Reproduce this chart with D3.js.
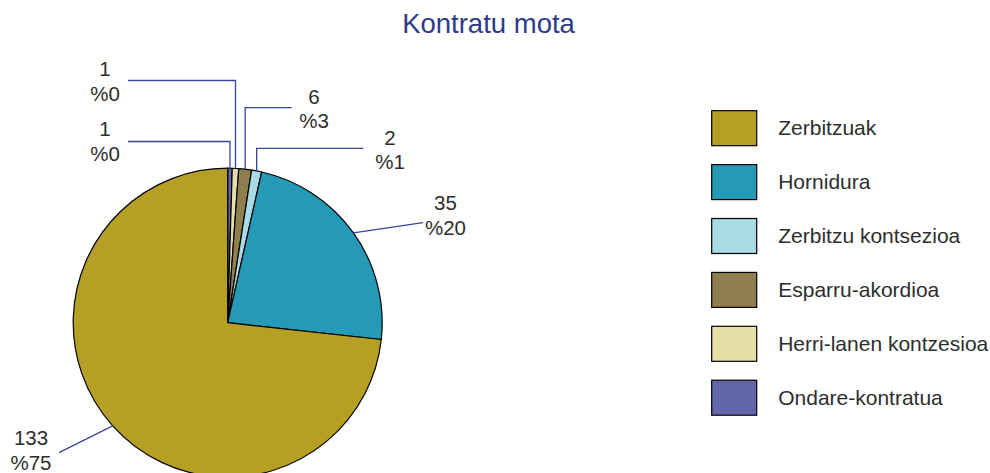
<!DOCTYPE html>
<html>
<head>
<meta charset="utf-8">
<script src="https://cdn.jsdelivr.net/npm/d3@7"></script>
<style>
  html, body { margin: 0; padding: 0; background: #fff; }
  svg { display: block; font-family: "Liberation Sans", Arial, sans-serif; }
</style>
</head>
<body>
<svg id="chart"></svg>
<script>
// Categories in legend order
const categories = ['Zerbitzuak', 'Hornidura', 'Zerbitzu kontsezioa', 'Esparru-akordioa', 'Herri-lanen kontzesioa', 'Ondare-kontratua'];
// Counts and percent labels as printed on the chart
const counts = [133, 35, 2, 6, 1, 1];
const percentLabels = ['%75', '%20', '%1', '%3', '%0', '%0'];
// Slice shares (percent of the circle)
const shares = [73.25, 23.2, 1.06, 1.33, 0.67, 0.47];
const colors = ['#b5a025', '#249ab6', '#a8dbe6', '#8f7f4f', '#e8dfa6', '#6366ab'];

function drawPie() {
    const width = 990;
    const height = 473;
    const cx = 227.7, cy = 322.7, radius = 154.5;

    const svg = d3.select('#chart')
        .attr('width', width)
        .attr('height', height);

    const data = categories.map((c, i) => ({ name: c, count: counts[i], pct: percentLabels[i], share: shares[i], color: colors[i] }));

    // Excel draws the series clockwise from 12 o'clock, last category first
    const pie = d3.pie()
        .sort(null)
        .value(d => d.share);
    const arcs = pie(data.slice().reverse());

    const arc = d3.arc().innerRadius(0).outerRadius(radius);

    const g = svg.append('g').attr('transform', `translate(${cx},${cy})`);
    g.selectAll('path.slice')
        .data(arcs)
        .enter()
        .append('path')
        .attr('class', 'slice')
        .attr('d', arc)
        .style('fill', d => d.data.color)
        .style('stroke', '#000')
        .style('stroke-width', 1.2)
        .style('stroke-linejoin', 'round');

    // Label layout: elbow y for the vertical leaders, end point and text position
    const labelLayout = {
        'Ondare-kontratua':       { elbowY: 141.5, endX: 128, tx: 105, ty: 136 },
        'Herri-lanen kontzesioa': { elbowY: 80.5, endX: 128, tx: 105, ty: 76 },
        'Esparru-akordioa':       { elbowY: 107.7, endX: 291.7, tx: 314, ty: 103.5 },
        'Zerbitzu kontsezioa':    { elbowY: 148.3, endX: 363.3, tx: 390, ty: 144.5 },
        'Hornidura':              { end: [423, 222.7], tx: 445.5, ty: 210 },
        'Zerbitzuak':             { end: [59, 452.7], tx: 31, ty: 445 }
    };

    const labels = svg.append('g');
    arcs.forEach(a => {
        const lay = labelLayout[a.data.name];
        const mid = (a.startAngle + a.endAngle) / 2;
        const ax = cx + radius * Math.sin(mid);
        const ay = cy - radius * Math.cos(mid);
        let pts;
        if (lay.end) {
            pts = [[ax, ay], lay.end];
        } else {
            pts = [[ax, ay], [ax, lay.elbowY], [lay.endX, lay.elbowY]];
        }
        labels.append('path')
            .attr('d', d3.line()(pts))
            .style('fill', 'none')
            .style('stroke', '#3a44a0')
            .style('stroke-width', 1.3);

        const t = labels.append('text')
            .attr('x', lay.tx)
            .attr('y', lay.ty)
            .attr('text-anchor', 'middle')
            .style('font-size', '20.5px')
            .style('fill', '#2e2e2e');
        t.append('tspan').attr('x', lay.tx).text(a.data.count);
        t.append('tspan').attr('x', lay.tx).attr('dy', 24.5).text(a.data.pct);
    });

    // Title
    svg.append('text')
        .attr('x', 488.5)
        .attr('y', 33)
        .attr('text-anchor', 'middle')
        .style('font-size', '27.5px')
        .style('fill', '#2e3a8a')
        .text('Kontratu mota');

    // Legend
    const legend = svg.selectAll('.legend')
        .data(data)
        .enter()
        .append('g')
        .attr('class', 'legend')
        .attr('transform', (d, i) => `translate(711.7, ${110.7 + i * 53.9})`);

    legend.append('rect')
        .attr('width', 45)
        .attr('height', 35)
        .style('fill', d => d.color)
        .style('stroke', '#000')
        .style('stroke-width', 1.2);

    legend.append('text')
        .attr('x', 66.5)
        .attr('y', 24.5)
        .style('font-size', '21px')
        .style('fill', '#2e2e2e')
        .text(d => d.name);
}

window.addEventListener('load', drawPie);
</script>
</body>
</html>
